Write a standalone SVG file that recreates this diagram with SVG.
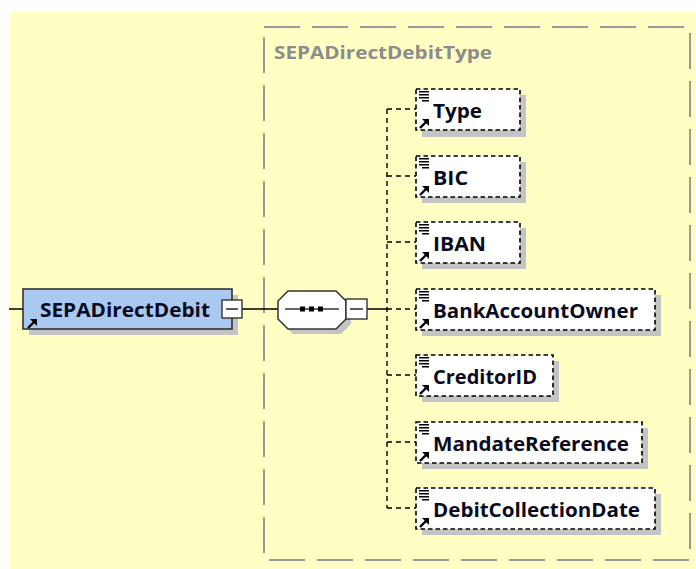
<svg xmlns="http://www.w3.org/2000/svg" width="696" height="569" viewBox="0 0 696 569">
<style>
.lbl{font-family:"Open Sans","Liberation Sans",sans-serif;font-weight:bold;font-size:19.5px;fill:#0a0a1e}
.title{font-family:"Open Sans","Liberation Sans",sans-serif;font-weight:bold;font-size:18px;fill:#8c8c8c}
.child{fill:#ffffff;stroke:#000;stroke-width:1.6;stroke-dasharray:4.5,3}
.shadow{fill:#c4c4c4}
.conn{stroke:#000;stroke-width:1.4;fill:none}
.dconn{stroke:#000;stroke-width:1.4;fill:none;stroke-dasharray:5,4}
</style>
<defs>
<g id="refarrow">
<path d="M1,9 L7,3" stroke="#000" stroke-width="2.4"/>
<path d="M3,0 L10,0 L10,7 Z" fill="#000"/>
</g>
<g id="lines">
<path d="M0,0.75 H10 M0,3.75 H10 M0,6.75 H10 M3,9.75 H10" stroke="#000" stroke-width="1.4"/>
</g>
</defs>
<rect x="9" y="11" width="687" height="558" fill="#ffffc4"/>
<g id="group-box">
<rect x="264" y="27" width="426" height="533" fill="none" stroke="#9a9a9a" stroke-width="2" stroke-dasharray="36,12"/>
<text class="title" x="274" y="59" textLength="218" lengthAdjust="spacingAndGlyphs">SEPADirectDebitType</text>
</g>
<g id="connectors">
<path class="conn" d="M9,309 H23 M242,309 H278 M367,309 H387"/>
<path class="dconn" d="M387,109 V508"/>
<path class="dconn" d="M387,109 H416 M387,176 H416 M387,242 H416 M387,309 H416 M387,375 H416 M387,442 H416 M387,508 H416"/>
</g>
<g id="node-SEPADirectDebit">
<rect class="shadow" x="29" y="295" width="209" height="40"/>
<rect x="23" y="289" width="209" height="40" fill="#a9c9f1" stroke="#333" stroke-width="1.6"/>
<use href="#refarrow" x="27" y="319"/>
<text class="lbl" x="40" y="317" textLength="170" lengthAdjust="spacingAndGlyphs">SEPADirectDebit</text>
<rect x="222" y="300" width="20" height="18" fill="#fff" stroke="#333" stroke-width="1.4"/>
<path d="M226,309 H238" stroke="#333" stroke-width="1.6"/>
</g>
<g id="node-sequence">
<path class="shadow" d="M293,296 H341 L351,306 V324 L341,334 H293 L283,324 V306 Z"/>
<path d="M288,291 H336 L346,301 V319 L336,329 H288 L278,319 V301 Z" fill="#fff" stroke="#333" stroke-width="1.5"/>
<path d="M285,309 H339" stroke="#333" stroke-width="1.4"/>
<rect x="300" y="306.5" width="5" height="5" fill="#000"/>
<rect x="309" y="306.5" width="5" height="5" fill="#000"/>
<rect x="318" y="306.5" width="5" height="5" fill="#000"/>
<rect x="346" y="299" width="21" height="20" fill="#fff" stroke="#333" stroke-width="1.4"/>
<path d="M350,309 H363" stroke="#333" stroke-width="1.6"/>
</g>
<g id="node-Type">
<rect class="shadow" x="422" y="95" width="104" height="42"/>
<rect class="child" x="416" y="89" width="104" height="41"/>
<use href="#lines" x="419" y="91"/>
<use href="#refarrow" x="419" y="119"/>
<text class="lbl" x="433" y="118" textLength="49" lengthAdjust="spacingAndGlyphs">Type</text>
</g>
<g id="node-BIC">
<rect class="shadow" x="422" y="162" width="104" height="41"/>
<rect class="child" x="416" y="156" width="104" height="41"/>
<use href="#lines" x="419" y="158"/>
<use href="#refarrow" x="419" y="186"/>
<text class="lbl" x="433" y="185" textLength="35" lengthAdjust="spacingAndGlyphs">BIC</text>
</g>
<g id="node-IBAN">
<rect class="shadow" x="422" y="228" width="104" height="41"/>
<rect class="child" x="416" y="222" width="104" height="41"/>
<use href="#lines" x="419" y="224"/>
<use href="#refarrow" x="419" y="252"/>
<text class="lbl" x="433" y="251" textLength="53" lengthAdjust="spacingAndGlyphs">IBAN</text>
</g>
<g id="node-BankAccountOwner">
<rect class="shadow" x="422" y="295" width="239" height="41"/>
<rect class="child" x="416" y="289" width="239" height="41"/>
<use href="#lines" x="419" y="291"/>
<use href="#refarrow" x="419" y="319"/>
<text class="lbl" x="433" y="318" textLength="205" lengthAdjust="spacingAndGlyphs">BankAccountOwner</text>
</g>
<g id="node-CreditorID">
<rect class="shadow" x="422" y="361" width="137" height="41"/>
<rect class="child" x="416" y="355" width="137" height="41"/>
<use href="#lines" x="419" y="357"/>
<use href="#refarrow" x="419" y="385"/>
<text class="lbl" x="433" y="384" textLength="104" lengthAdjust="spacingAndGlyphs">CreditorID</text>
</g>
<g id="node-MandateReference">
<rect class="shadow" x="422" y="428" width="226" height="41"/>
<rect class="child" x="416" y="422" width="226" height="41"/>
<use href="#lines" x="419" y="424"/>
<use href="#refarrow" x="419" y="452"/>
<text class="lbl" x="433" y="451" textLength="196" lengthAdjust="spacingAndGlyphs">MandateReference</text>
</g>
<g id="node-DebitCollectionDate">
<rect class="shadow" x="422" y="494" width="239" height="41"/>
<rect class="child" x="416" y="488" width="239" height="41"/>
<use href="#lines" x="419" y="490"/>
<use href="#refarrow" x="419" y="518"/>
<text class="lbl" x="433" y="517" textLength="207" lengthAdjust="spacingAndGlyphs">DebitCollectionDate</text>
</g>
</svg>
